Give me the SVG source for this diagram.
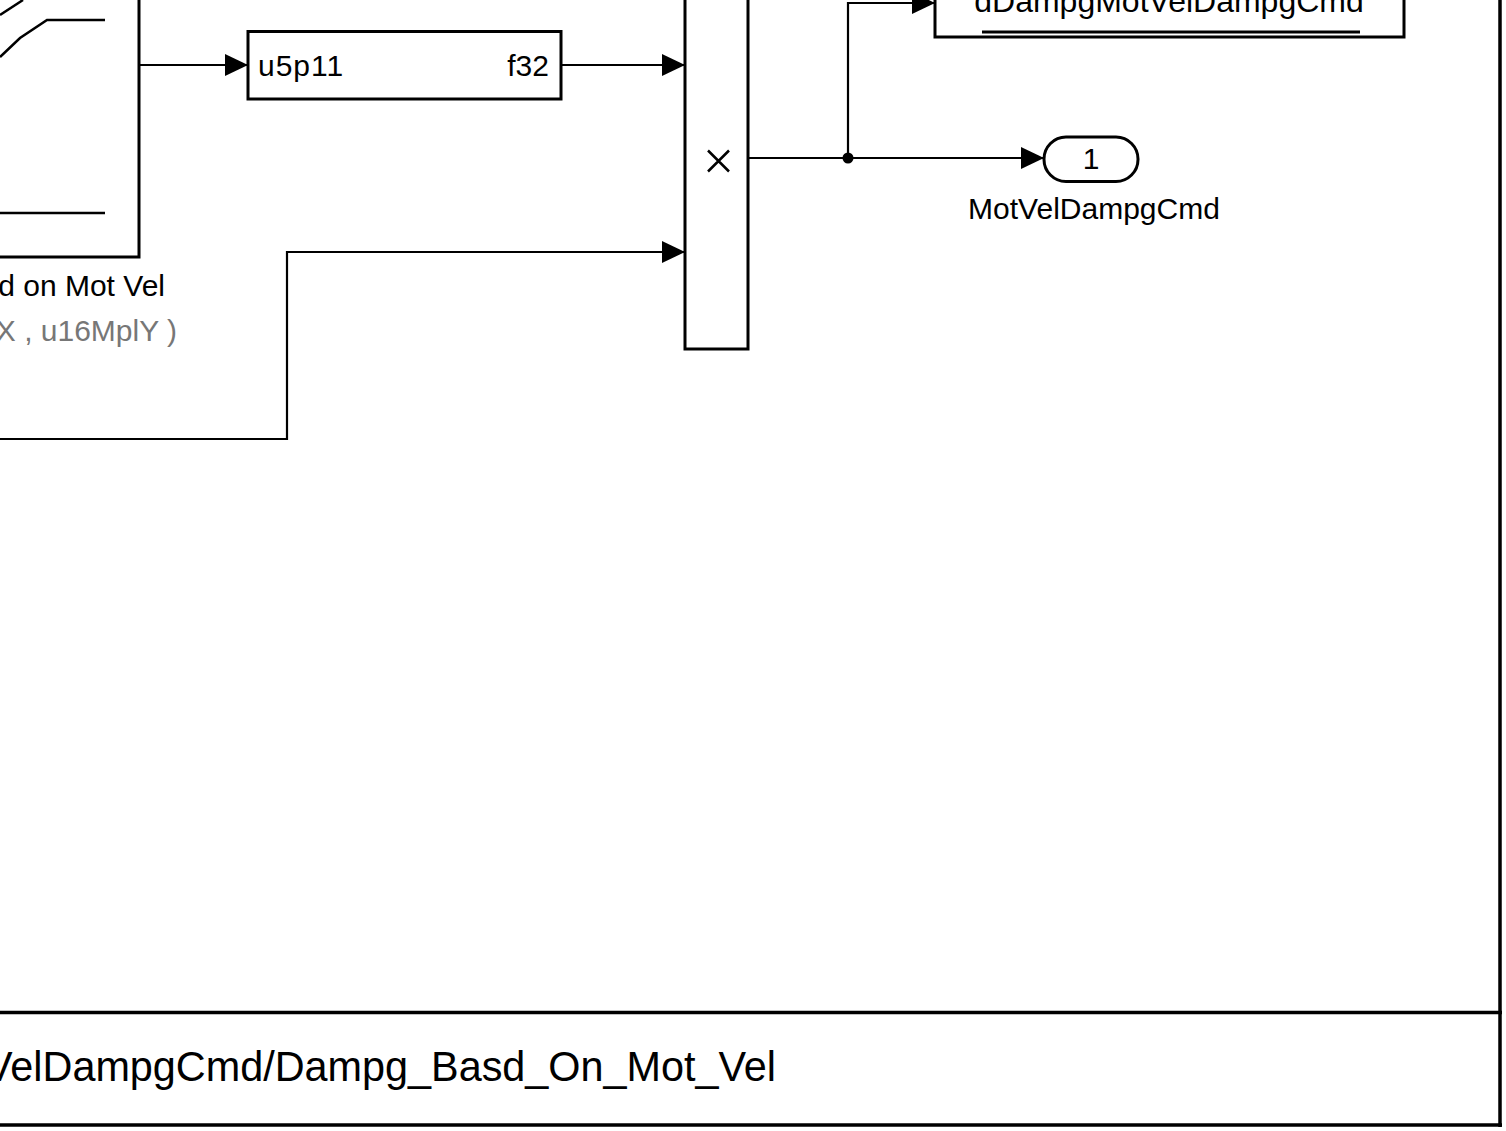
<svg xmlns="http://www.w3.org/2000/svg" width="1506" height="1131" viewBox="0 0 1506 1131">
<defs>
<style>
.blk{fill:#fff;stroke:#000;stroke-width:3}
.ln{fill:none;stroke:#000;stroke-width:2.5}
.cn{fill:none;stroke:#000;stroke-width:2.2}
.t{font-family:"Liberation Sans",Arial,sans-serif;font-size:30px;fill:#000}
.g{fill:#777}
</style>
<marker id="ah" viewBox="0 0 23 22" refX="23" refY="11" markerWidth="23" markerHeight="22" markerUnits="userSpaceOnUse" orient="auto">
<path d="M0,0 L23,11 L0,22 z" fill="#000"/>
</marker>
</defs>
<rect x="0" y="0" width="1506" height="1131" fill="#fff"/>

<g id="connectors">
<path class="cn" d="M139,65 H248" marker-end="url(#ah)"/>
<path class="cn" d="M561,65 H685" marker-end="url(#ah)"/>
<path class="cn" d="M0,439 H287 V252 H685" marker-end="url(#ah)"/>
<path class="cn" d="M748,158 H1044" marker-end="url(#ah)"/>
<path class="cn" d="M848,158 V3 H935" marker-end="url(#ah)"/>
<circle cx="848" cy="158" r="5.5" fill="#000"/>
</g>

<g id="lookup">
<path class="blk" d="M-5,-5 H139 V257 H-5 Z"/>
<path class="ln" d="M0,15 L23,0"/>
<path class="ln" d="M0,57 L20,38 L47,20 H105"/>
<path class="ln" d="M0,213 H105"/>
<text class="t" x="165" y="296" text-anchor="end">d on Mot Vel</text>
<text class="t g" x="177" y="341" text-anchor="end">X , u16MplY )</text>
</g>

<g id="convert">
<rect class="blk" x="248" y="31.5" width="313" height="67.5"/>
<text class="t" x="258" y="76" letter-spacing="1">u5p11</text>
<text class="t" x="549" y="76" text-anchor="end">f32</text>
</g>

<g id="product">
<path class="blk" d="M685,-5 V349 H748 V-5"/>
<path class="ln" d="M708,150.5 L729,171.5 M729,150.5 L708,171.5" stroke-width="2.2"/>
</g>

<g id="display">
<path class="blk" d="M935,-5 V37 H1404 V-5"/>
<text class="t" x="1169" y="12" text-anchor="middle" style="font-size:32px">dDampgMotVelDampgCmd</text>
<line x1="982" y1="32" x2="1360" y2="32" stroke="#000" stroke-width="3"/>
</g>

<g id="outport">
<rect class="blk" x="1044" y="137" width="94" height="44.5" rx="22" ry="22" stroke-width="2.5"/>
<text class="t" x="1091" y="169" text-anchor="middle">1</text>
<text class="t" x="1094" y="219" text-anchor="middle">MotVelDampgCmd</text>
</g>

<g id="frame">
<line x1="1500" y1="0" x2="1500" y2="1127" stroke="#000" stroke-width="3.5"/>
<line x1="0" y1="1012.5" x2="1502" y2="1012.5" stroke="#000" stroke-width="3.5"/>
<line x1="0" y1="1125" x2="1502" y2="1125" stroke="#000" stroke-width="3.5"/>
<text class="t" x="-15" y="1081" textLength="791" lengthAdjust="spacingAndGlyphs" style="font-size:42px">VelDampgCmd/Dampg_Basd_On_Mot_Vel</text>
</g>
</svg>
